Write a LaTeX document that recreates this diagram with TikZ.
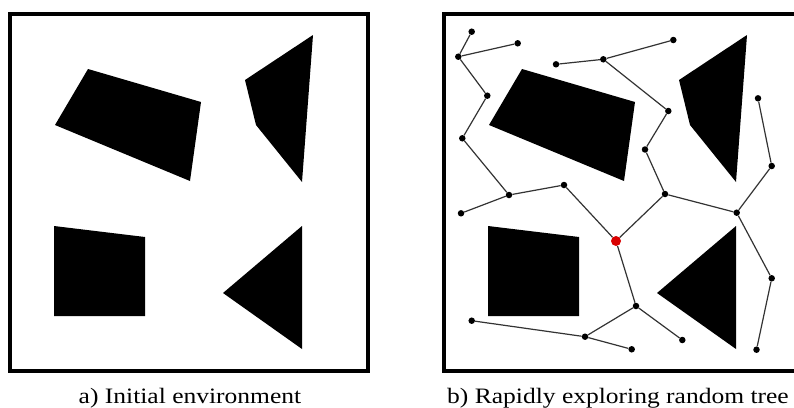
\documentclass[tikz,border=0pt]{standalone}
\usepackage{fontspec}
\setmainfont{Liberation Serif}[FakeStretch=1.16]
\begin{document}
\begin{tikzpicture}[x=1pt,y=-1pt,
  framebox/.style={line width=4pt, draw=black},
  obst/.style={fill=black, draw=none},
  vtx/.style={circle, fill=black, inner sep=0pt, minimum size=6.5pt},
  rootvtx/.style={circle, fill=red!85!black, inner sep=0pt, minimum size=10pt},
  edge/.style={draw=black!80, line width=1.2pt},
  captext/.style={font=\fontsize{22}{26}\selectfont, anchor=base}]
\useasboundingbox (0,0) rectangle (794,407);
\foreach \dx in {0,434}{
\begin{scope}[xshift=\dx pt]
\fill[obst] (88,69) -- (201,102) -- (190,181) -- (55,125) -- cycle;
\fill[obst] (313,35) -- (302,182) -- (256,125) -- (245,80) -- cycle;
\fill[obst] (54,226) -- (145,237) -- (145,316) -- (54,316) -- cycle;
\fill[obst] (302,226) -- (302,349) -- (223,293) -- cycle;
\draw[framebox] (10,13.5) rectangle (368,370.5);
\end{scope}}
\node[captext] (capa) at (190,403) {a) Initial environment};
\node[captext] (capb) at (618,403) {b) Rapidly exploring random tree};
% tree vertices
\node[vtx] (v1) at (471.7,31.7) {};
\node[vtx] (v2) at (517.7,43.3) {};
\node[vtx] (v3) at (458.3,56.7) {};
\node[vtx] (v4) at (487.3,95.7) {};
\node[vtx] (v5) at (462.3,138.3) {};
\node[vtx] (v6) at (509,195) {};
\node[vtx] (v7) at (564,185) {};
\node[vtx] (v8) at (461,213.3) {};
\node[vtx] (v9) at (556,64.3) {};
\node[vtx] (v10) at (603.3,59.3) {};
\node[vtx] (v11) at (673.3,40) {};
\node[vtx] (v12) at (668.3,111) {};
\node[vtx] (v13) at (645,149.5) {};
\node[vtx] (v14) at (665,194) {};
\node[vtx] (v15) at (736.7,212.7) {};
\node[vtx] (v16) at (771.7,166) {};
\node[vtx] (v17) at (758,98.3) {};
\node[vtx] (v18) at (771.7,278.3) {};
\node[vtx] (v19) at (756.5,349.7) {};
\node[vtx] (v20) at (636,306) {};
\node[vtx] (v21) at (585,336.7) {};
\node[vtx] (v22) at (682.3,340) {};
\node[vtx] (v23) at (471.7,320.7) {};
\node[vtx] (v24) at (631.7,349.3) {};
% edges
\draw[edge] (v1) -- (v3);
\draw[edge] (v2) -- (v3);
\draw[edge] (v3) -- (v4);
\draw[edge] (v4) -- (v5);
\draw[edge] (v5) -- (v6);
\draw[edge] (v6) -- (v7);
\draw[edge] (v6) -- (v8);
\draw[edge] (v9) -- (v10);
\draw[edge] (v10) -- (v11);
\draw[edge] (v10) -- (v12);
\draw[edge] (v12) -- (v13);
\draw[edge] (v13) -- (v14);
\draw[edge] (v14) -- (v15);
\draw[edge] (v15) -- (v16);
\draw[edge] (v16) -- (v17);
\draw[edge] (v15) -- (v18);
\draw[edge] (v18) -- (v19);
\draw[edge] (v20) -- (v21);
\draw[edge] (v20) -- (v22);
\draw[edge] (v21) -- (v23);
\draw[edge] (v21) -- (v24);
\node[rootvtx] (r) at (616,241) {};
\draw[edge] (v7) -- (r);
\draw[edge] (v14) -- (r);
\draw[edge] (r) -- (v20);
\end{tikzpicture}
\end{document}
